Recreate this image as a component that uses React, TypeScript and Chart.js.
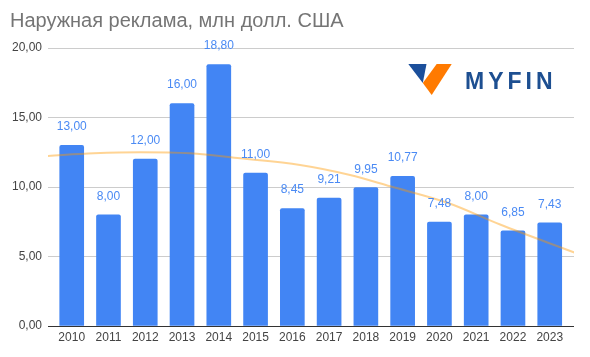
import React, { useEffect, useRef } from "react";
import { Chart, registerables } from "chart.js";

Chart.register(...registerables);

const TITLE = "Наружная реклама, млн долл. США";
const years = [2010, 2011, 2012, 2013, 2014, 2015, 2016, 2017, 2018, 2019, 2020, 2021, 2022, 2023];
const values = [13, 8, 12, 16, 18.8, 11, 8.45, 9.21, 9.95, 10.77, 7.48, 8, 6.85, 7.43];
const trendX = [2009.34, 2010.6, 2011.86, 2013.22, 2014.58, 2016.21, 2017.57, 2018.66, 2020.2, 2021.65, 2023.69];
const trendY = [12.23, 12.42, 12.5, 12.42, 12.06, 11.58, 10.86, 10.05, 8.88, 7.3, 5.27];
const yTicks = [0, 5, 10, 15, 20];

const FONT = "'Liberation Sans', Arial, sans-serif";
const fmt = (v: number) => v.toFixed(2).replace(".", ",");

const overlayPlugin = {
  id: "overlay",
  afterDatasetsDraw(chart: any) {
    const ctx = chart.ctx;
    ctx.save();
    const meta = chart.getDatasetMeta(0);
    ctx.font = `12px ${FONT}`;
    ctx.fillStyle = "#4a8af4";
    ctx.textAlign = "center";
    ctx.textBaseline = "middle";
    meta.data.forEach((el: any, i: number) => {
      ctx.fillText(fmt(values[i]), el.x, el.y - 18.5);
    });
    ctx.restore();
  },
  afterDraw(chart: any) {
    const ctx = chart.ctx;
    ctx.save();
    ctx.font = `20px ${FONT}`;
    ctx.fillStyle = "#757575";
    ctx.textAlign = "left";
    ctx.textBaseline = "alphabetic";
    ctx.fillText(TITLE, 10, 27);
    ctx.fillStyle = "#1b4f9b";
    ctx.beginPath();
    ctx.moveTo(408.3, 64);
    ctx.lineTo(426.5, 64);
    ctx.lineTo(422.8, 83);
    ctx.closePath();
    ctx.fill();
    ctx.fillStyle = "#ff7a00";
    ctx.beginPath();
    ctx.moveTo(436.7, 64);
    ctx.lineTo(451.7, 64);
    ctx.lineTo(431.7, 95);
    ctx.lineTo(422.8, 83);
    ctx.closePath();
    ctx.fill();
    ctx.font = `900 23px ${FONT}`;
    ctx.fillStyle = "#1d4f91";
    (ctx as any).letterSpacing = "4px";
    ctx.textBaseline = "alphabetic";
    ctx.fillText("MYFIN", 465, 88.5);
    ctx.restore();
  },
};

export default function App() {
  const ref = useRef<HTMLCanvasElement | null>(null);
  useEffect(() => {
    document.body.style.margin = "0";
    const canvas = ref.current!;
    const chart = new Chart(canvas, {
      type: "bar",
      data: {
        datasets: [
          {
            type: "bar",
            data: years.map((y, i) => ({ x: y, y: values[i] })),
            backgroundColor: "#4285F4",
            barThickness: 24,
            borderRadius: { topLeft: 2, topRight: 2, bottomLeft: 0, bottomRight: 0 },
            borderSkipped: false,
            order: 2,
          } as any,
          {
            type: "line",
            data: trendX.map((x, i) => ({ x, y: trendY[i] })),
            borderColor: "rgba(255,153,0,0.42)",
            borderWidth: 2,
            pointRadius: 0,
            cubicInterpolationMode: "monotone",
            order: 0,
          } as any,
        ],
      },
      options: {
        animation: false,
        responsive: false,
        maintainAspectRatio: false,
        layout: { padding: { top: 48, right: 16, left: 0, bottom: 0 } },
        plugins: { legend: { display: false }, tooltip: { enabled: false }, title: { display: false } },
        scales: {
          x: {
            type: "linear",
            offset: false,
            min: 2009.355,
            max: 2023.66,
            afterBuildTicks: (s: any) => {
              s.ticks = years.map((v) => ({ value: v }));
            },
            afterFit: (s: any) => {
              s.height = 31;
            },
            ticks: {
              autoSkip: false,
              maxRotation: 0,
              padding: 4,
              color: "#444",
              font: { family: FONT, size: 12 },
              callback: (v: any) => String(v),
            },
            grid: { display: false, drawTicks: false, offset: false },
            border: { display: false },
          },
          y: {
            min: 0,
            max: 20,
            afterBuildTicks: (s: any) => {
              s.ticks = yTicks.map((v) => ({ value: v }));
            },
            afterFit: (s: any) => {
              s.width = 48;
            },
            ticks: {
              padding: 6,
              color: "#444",
              font: { family: FONT, size: 12 },
              callback: (v: any) => fmt(Number(v)),
            },
            grid: {
              drawTicks: false,
              color: (c: any) => (c.tick && c.tick.value === 0 ? "#333" : "#ccc"),
              lineWidth: 1,
            },
            border: { display: false },
          },
        },
      } as any,
      plugins: [overlayPlugin],
    });
    return () => chart.destroy();
  }, []);
  return (
    <div style={{ position: "absolute", left: 0, top: 0, width: 590, height: 357, background: "#fff" }}>
      <canvas ref={ref} width={590} height={357} style={{ width: 590, height: 357, display: "block" }} />
    </div>
  );
}
